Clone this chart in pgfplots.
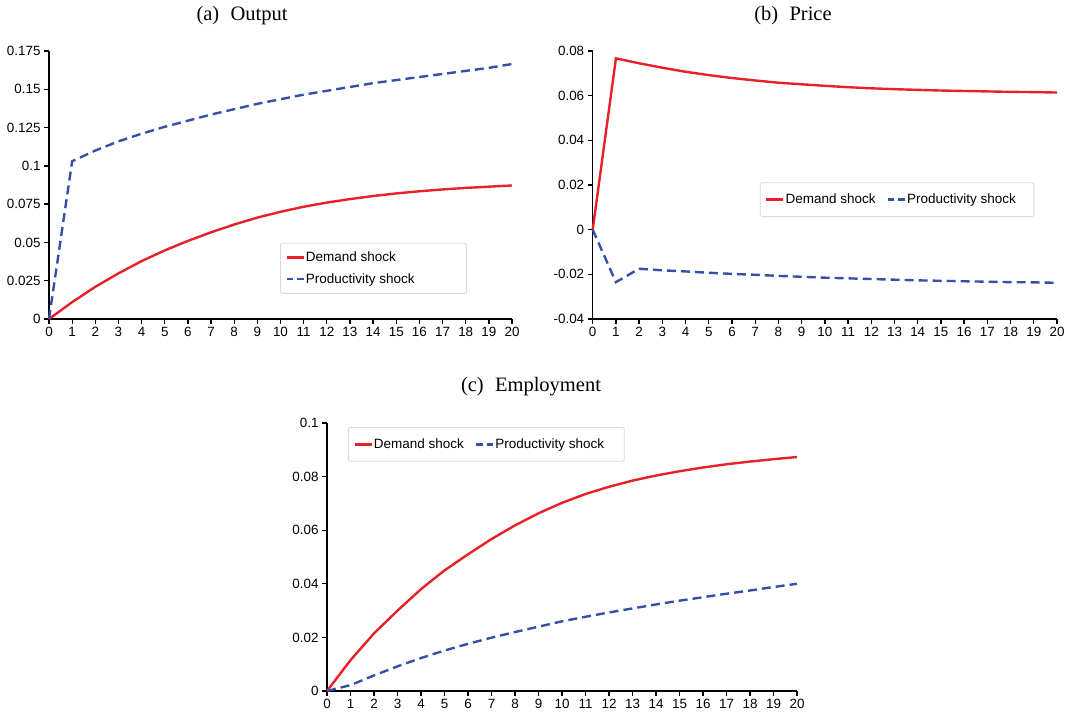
\documentclass[border=0pt]{standalone}
\usepackage{fontspec}
\setmainfont{Liberation Sans}
\newfontfamily\serif{Liberation Serif}
\usepackage{pgfplots}
\pgfplotsset{compat=1.18}
\definecolor{demred}{RGB}{232,32,40}
\definecolor{problue}{RGB}{52,80,168}
\pgfplotsset{
 every axis/.append style={
  scale only axis, axis lines=left, axis line style={-, line width=1.5pt},
  tick align=outside, major tick length=5pt, tick style={line width=1.3pt, black},
  xmin=0, xmax=20, xtick={0,1,...,20}, clip=false, scaled y ticks=false,
  /pgf/number format/assume math mode=true,
  tick label style={font=\fontsize{13.4}{13.4}\selectfont},
  legend style={draw=black!15, rounded corners=2pt, line width=0.8pt,
    font=\fontsize{13.5}{16}\selectfont, inner xsep=5pt, inner ysep=8.25pt,
    cells={anchor=west}, nodes={inner xsep=1pt, inner ysep=3pt}, row sep=4.5pt},
  legend image code/.code={\draw[#1] (0pt,0pt) -- (17pt,0pt);},
 },
 dem/.style={color=demred, line width=2.4pt},
 pro/.style={color=problue, line width=2.4pt, dash pattern=on 9pt off 5pt,
   legend image code/.code={\draw[color=problue, line width=2.4pt, dash pattern=on 6.5pt off 4pt] (0pt,0pt) -- (17pt,0pt);}},
}
\pgfplotstableread{
t a_dem a_pro b_dem b_pro c_dem c_pro
0 0 0 0 0 0 0
1 0.0110 0.1030 0.0767 -0.0235 0.0115 0.0022
2 0.0210 0.1100 0.0745 -0.0175 0.0215 0.0058
3 0.0298 0.1160 0.0725 -0.0182 0.0300 0.0092
4 0.0378 0.1210 0.0707 -0.0187 0.0380 0.0123
5 0.0448 0.1255 0.0692 -0.0193 0.0450 0.0151
6 0.0510 0.1295 0.0679 -0.0198 0.0510 0.0176
7 0.0566 0.1335 0.0668 -0.0202 0.0567 0.0199
8 0.0617 0.1370 0.0658 -0.0207 0.0618 0.0220
9 0.0662 0.1405 0.0651 -0.0211 0.0663 0.0240
10 0.0700 0.1435 0.0644 -0.0215 0.0702 0.0260
11 0.0733 0.1465 0.0638 -0.0218 0.0735 0.0277
12 0.0760 0.1490 0.0633 -0.0221 0.0762 0.0293
13 0.0783 0.1515 0.0629 -0.0224 0.0785 0.0308
14 0.0803 0.1540 0.0626 -0.0227 0.0804 0.0323
15 0.0820 0.1560 0.0623 -0.0229 0.0820 0.0337
16 0.0834 0.1580 0.0621 -0.0231 0.0834 0.0350
17 0.0846 0.1600 0.0619 -0.0233 0.0846 0.0363
18 0.0856 0.1620 0.0617 -0.0235 0.0856 0.0375
19 0.0864 0.1640 0.0616 -0.0236 0.0865 0.0388
20 0.0872 0.1665 0.0614 -0.0238 0.0873 0.0400
}\data
\begin{document}
\begin{tikzpicture}
\useasboundingbox (0pt,0pt) rectangle (1071pt,713pt);
% (a)
\begin{axis}[at={(49pt,394pt)}, anchor=south west, width=463pt, height=268pt,
  ymin=0, ymax=0.175, ytick={0,0.025,0.05,0.075,0.1,0.125,0.15,0.175},
  yticklabels={0,0.025,0.05,0.075,0.1,0.125,0.15,0.175},
  legend style={at={(0.499,0.284)}, anchor=north west, inner ysep=5.5pt}]
\addplot[dem] table[x=t,y=a_dem]{\data};
\addlegendentry{Demand shock}
\addplot[pro] table[x=t,y=a_pro]{\data};
\addlegendentry{Productivity shock\hspace*{46pt}}
\end{axis}
% (b)
\begin{axis}[at={(592.7pt,394pt)}, anchor=south west, width=464.3pt, height=268pt,
  ymin=-0.04, ymax=0.08, ytick={-0.04,-0.02,0,0.02,0.04,0.06,0.08},
  yticklabels={-0.04,-0.02,0,0.02,0.04,0.06,0.08},
  legend columns=2,
  legend style={at={(0.36,0.51)}, anchor=north west,
    /tikz/every even column/.append style={column sep=10pt}}]
\addplot[dem] table[x=t,y=b_dem]{\data};
\addlegendentry{Demand shock}
\addplot[pro] table[x=t,y=b_pro]{\data};
\addlegendentry{Productivity shock\hspace*{12pt}}
\end{axis}
% (c)
\begin{axis}[at={(327pt,22pt)}, anchor=south west, width=470pt, height=268pt,
  ymin=0, ymax=0.1, ytick={0,0.02,0.04,0.06,0.08,0.1},
  yticklabels={0,0.02,0.04,0.06,0.08,0.1},
  legend columns=2,
  legend style={at={(0.045,0.985)}, anchor=north west,
    /tikz/every even column/.append style={column sep=10pt}}]
\addplot[dem] table[x=t,y=c_dem]{\data};
\addlegendentry{Demand shock}
\addplot[pro] table[x=t,y=c_pro]{\data};
\addlegendentry{Productivity shock\hspace*{14pt}}
\end{axis}
\node[font=\serif\fontsize{20.5}{21}\selectfont] at (242pt,697pt) {(a)\hspace{0.55em}Output};
\node[font=\serif\fontsize{20.5}{21}\selectfont] at (793pt,697pt) {(b)\hspace{0.55em}Price};
\node[font=\serif\fontsize{20.5}{21}\selectfont] at (531pt,326pt) {(c)\hspace{0.55em}Employment};
\end{tikzpicture}
\end{document}
